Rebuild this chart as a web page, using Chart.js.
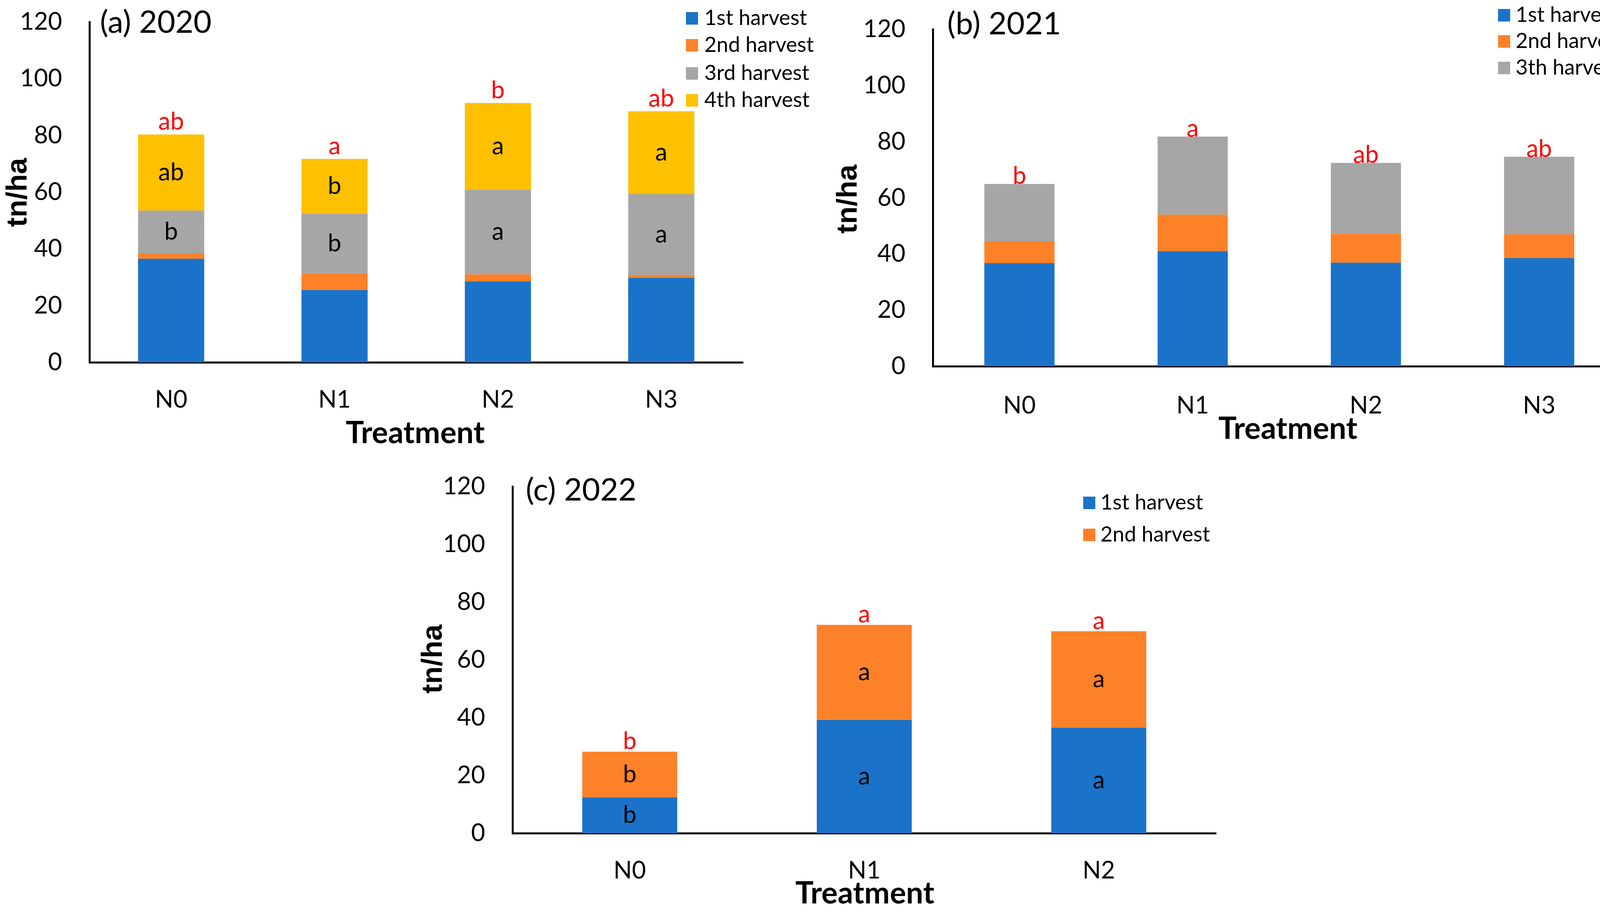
<!DOCTYPE html>
<html>
<head>
<meta charset="utf-8">
<script src="https://cdn.jsdelivr.net/npm/chart.js@4.4.1/dist/chart.umd.min.js"></script>
<style>
body{margin:0;background:#fff;width:4170px;height:2341px;position:relative;overflow:hidden}
canvas{position:absolute}
</style>
</head>
<body>
<canvas id="chartA" width="2140" height="1180" style="left:0px;top:0px"></canvas>
<canvas id="chartB" width="2030" height="1180" style="left:2140px;top:0px"></canvas>
<canvas id="chartC" width="2300" height="1161" style="left:1000px;top:1180px"></canvas>
<script>
const FONT = "Lato, 'Open Sans', sans-serif";
const yTicks = [0, 20, 40, 60, 80, 100, 120];

const treatAB = ["N0", "N1", "N2", "N3"];
const a1st = [36.5, 25.5, 28.5, 29.8];
const a2nd = [1.9, 5.8, 2.5, 1.0];
const a3rd = [15.1, 21.1, 29.8, 28.5];
const a4th = [26.8, 19.3, 30.6, 29.2];
const aTopLetters = ["ab", "a", "b", "ab"];
const a3rdLetters = ["b", "b", "a", "a"];
const a4thLetters = ["ab", "b", "a", "a"];

const b1st = [36.7, 41.0, 36.9, 38.5];
const b2nd = [7.8, 13.0, 10.3, 8.5];
const b3th = [20.4, 27.8, 25.2, 27.6];
const bTopLetters = ["b", "a", "ab", "ab"];

const treatC = ["N0", "N1", "N2"];
const c1st = [12.4, 39.2, 36.5];
const c2nd = [15.8, 32.9, 33.4];
const cTopLetters = ["b", "a", "a"];
const c1stLetters = ["b", "a", "a"];
const c2ndLetters = ["b", "a", "a"];

const BLUE = "#1A73C8";
const ORANGE = "#FD8128";
const GRAY = "#A6A6A6";
const YELLOW = "#FFC000";

const panels = {
  chartA: {
    title: "(a) 2020", titleX: 256, titleY: 58,
    legX: 1756, legTextX: 1803, legRows: [47, 116, 188, 257],
    yTitleX: 48, yTitleY: 493, xTitleX: 1063, xTitleY: 1110,
    top: aTopLetters, gap: 12,
    inside: [{ ds: 2, text: a3rdLetters }, { ds: 3, text: a4thLetters }]
  },
  chartB: {
    title: "(b) 2021", titleX: 285, titleY: 62,
    legX: 1695, legTextX: 1740, legRows: [39, 106, 174],
    yTitleX: 33, yTitleY: 510, xTitleX: 1157, xTitleY: 1099,
    top: bTopLetters, gap: 0,
    inside: []
  },
  chartC: {
    title: "(c) 2022", titleX: 346, titleY: 76,
    legX: 1773, legTextX: 1817, legRows: [108, 190],
    yTitleX: 111, yTitleY: 508, xTitleX: 1214, xTitleY: 1109,
    top: cTopLetters, gap: 6,
    inside: [{ ds: 0, text: c1stLetters }, { ds: 1, text: c2ndLetters }]
  }
};

const marks = {
  id: "marks",
  afterDatasetsDraw(chart) {
    const p = panels[chart.canvas.id];
    const ctx = chart.ctx;
    ctx.save();
    ctx.textAlign = "center";
    ctx.textBaseline = "middle";
    ctx.font = `62px ${FONT}`;
    ctx.fillStyle = "#000";
    p.inside.forEach((item) => {
      chart.getDatasetMeta(item.ds).data.forEach((bar, i) => {
        ctx.fillText(item.text[i], bar.x, (bar.y + bar.base) / 2);
      });
    });
    ctx.fillStyle = "#FF0000";
    ctx.textBaseline = "alphabetic";
    chart.getDatasetMeta(chart.data.datasets.length - 1).data.forEach((bar, i) => {
      ctx.fillText(p.top[i], bar.x, bar.y - p.gap);
    });

    ctx.fillStyle = "#000";
    ctx.textBaseline = "middle";
    ctx.textAlign = "left";
    ctx.font = `80px ${FONT}`;
    ctx.fillText(p.title, p.titleX, p.titleY);

    ctx.font = `54px ${FONT}`;
    chart.data.datasets.forEach((ds, i) => {
      ctx.fillStyle = ds.backgroundColor;
      ctx.fillRect(p.legX, p.legRows[i] - 16, 31, 32);
      ctx.fillStyle = "#000";
      ctx.fillText(ds.label, p.legTextX, p.legRows[i]);
    });

    ctx.textAlign = "center";
    ctx.font = `bold 78px ${FONT}`;
    ctx.fillText("Treatment", p.xTitleX, p.xTitleY);

    ctx.translate(p.yTitleX, p.yTitleY);
    ctx.rotate(-Math.PI / 2);
    ctx.font = "bold 74px 'Liberation Sans', Arial, sans-serif";
    ctx.fillText("tn/ha", 0, 0);
    ctx.restore();
  }
};

function makeChart(id, labels, datasets, lay) {
  return new Chart(id, {
    type: "bar",
    data: { labels: labels, datasets: datasets },
    options: {
      responsive: false,
      devicePixelRatio: 1,
      animation: false,
      layout: { padding: { left: 0, top: lay.top, right: lay.right, bottom: 0 } },
      datasets: { bar: { categoryPercentage: 1, barPercentage: 0.405 } },
      plugins: { legend: { display: false }, tooltip: { enabled: false } },
      scales: {
        x: {
          stacked: true,
          grid: { display: false, drawTicks: false },
          border: { display: true, color: "#000", width: 5 },
          ticks: { color: "#000", font: { family: FONT, size: 62 }, padding: lay.xPad },
          afterFit: (s) => { s.height = lay.xH; }
        },
        y: {
          stacked: true,
          min: 0,
          max: 120,
          grid: { display: false, drawTicks: false },
          border: { display: true, color: "#000", width: 5 },
          ticks: { color: "#000", font: { family: FONT, size: 62 }, padding: 70 },
          afterBuildTicks: (s) => { s.ticks = yTicks.map((v) => ({ value: v })); },
          afterFit: (s) => {
            s.width = lay.yW;
            s.paddingTop = 0;
            s.paddingBottom = 0;
          }
        }
      }
    },
    plugins: [marks]
  });
}

makeChart("chartA", treatAB, [
  { label: "1st harvest", data: a1st, backgroundColor: BLUE },
  { label: "2nd harvest", data: a2nd, backgroundColor: ORANGE },
  { label: "3rd harvest", data: a3rd, backgroundColor: GRAY },
  { label: "4th harvest", data: a4th, backgroundColor: YELLOW }
], { top: 56, right: 238, yW: 229, xH: 252, xPad: 59 });

makeChart("chartB", treatAB, [
  { label: "1st harvest", data: b1st, backgroundColor: BLUE },
  { label: "2nd harvest", data: b2nd, backgroundColor: ORANGE },
  { label: "3th harvest", data: b3th, backgroundColor: GRAY }
], { top: 75, right: 8, yW: 248, xH: 242, xPad: 64 });

makeChart("chartC", treatC, [
  { label: "1st harvest", data: c1st, backgroundColor: BLUE },
  { label: "2nd harvest", data: c2nd, backgroundColor: ORANGE }
], { top: 66, right: 187, yW: 312, xH: 207, xPad: 59 });
</script>
</body>
</html>
